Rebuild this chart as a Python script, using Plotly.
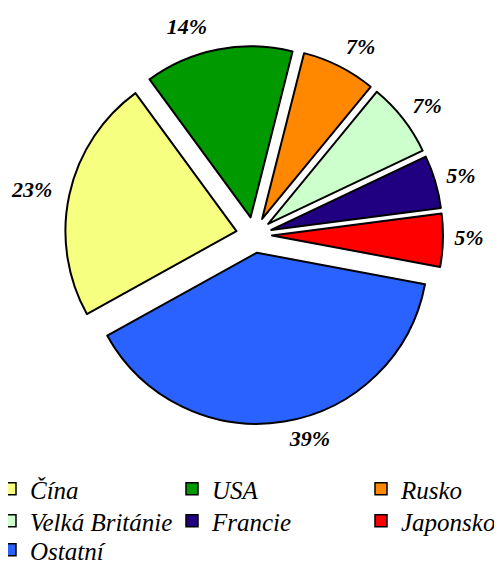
import plotly.graph_objects as go

# Podíl zemí (v %)
zeme = ["Čína", "USA", "Rusko", "Velká Británie", "Francie", "Japonsko", "Ostatní"]
podil = [23, 14, 7, 7, 5, 5, 39]
barvy = ["#F7FF80", "#009900", "#FF8800", "#CCFFCC", "#200080", "#FF0000", "#2A62FF"]

W, H = 502, 563
PULL = 0.105
ROT = 241


def dom(x0, x1, y0, y1):
    # pixelové hranice -> paper souřadnice
    return dict(x=[x0 / W, x1 / W], y=[1 - y1 / H, 1 - y0 / H])


fig = go.Figure()

# vlastní koláč
fig.add_trace(go.Pie(
    labels=zeme, values=podil, sort=False, direction="clockwise", rotation=ROT,
    pull=[PULL] * len(zeme),
    marker=dict(colors=barvy, line=dict(color="black", width=2)),
    textinfo="none",
    domain=dom(57, 435, 38, 416),
    showlegend=False,
    hoverinfo="label+percent",
))

# popisky procent (průhledný koláč o něco větší, jen kvůli poloze textu)
fig.add_trace(go.Pie(
    labels=zeme, values=podil, sort=False, direction="clockwise", rotation=ROT,
    pull=[PULL] * len(zeme),
    marker=dict(colors=["rgba(0,0,0,0)"] * len(zeme), line=dict(width=0)),
    textinfo="percent",
    texttemplate="%{percent:.0%}",
    textposition="outside",
    outsidetextfont=dict(family="Liberation Serif", size=22, color="black",
                         weight="bold", style="italic"),
    domain=dom(46, 440, 27, 421),
    showlegend=False,
    hoverinfo="skip",
))

# legenda: 3 sloupce, každá položka ve vlastní legendě
col_x = [12, 194, 383]     # střed značky, px
row_y = [481, 513, 542]    # poloha legendy (střed řádku je o ~9 px níž)
legend_layout = {}
for i, (z, c) in enumerate(zip(zeme, barvy)):
    key = "legend" if i == 0 else f"legend{i + 1}"
    fig.add_trace(go.Scatter(
        x=[None], y=[None], mode="markers", name=z, legend=key,
        marker=dict(symbol="square", size=12, color=c,
                    line=dict(color="black", width=1.5)),
        showlegend=True, hoverinfo="skip",
    ))
    legend_layout[key] = dict(
        x=(col_x[i % 3] - 30) / W, xanchor="left",
        y=1 - row_y[i // 3] / H, yanchor="middle",
        orientation="v",
        font=dict(family="Liberation Serif", size=25, color="black", style="italic"),
        bgcolor="rgba(0,0,0,0)",
        borderwidth=0,
    )

fig.update_layout(
    width=W,
    height=H,
    margin=dict(l=0, r=0, t=0, b=0, autoexpand=False),
    paper_bgcolor="white",
    plot_bgcolor="white",
    xaxis=dict(visible=False),
    yaxis=dict(visible=False),
    **legend_layout,
)

fig.write_html("out.html")
